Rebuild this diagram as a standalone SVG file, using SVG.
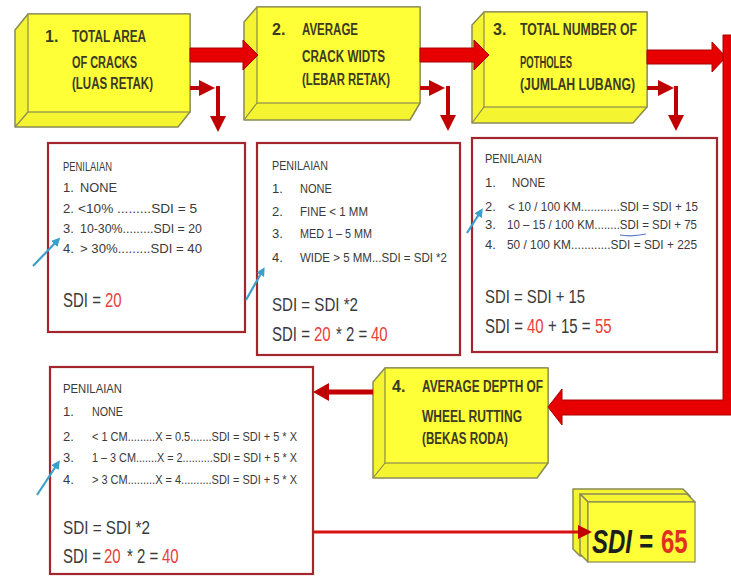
<svg xmlns="http://www.w3.org/2000/svg" width="731" height="576" viewBox="0 0 731 576">
<defs>
<style>
.bev{fill:#f4f430;stroke:#8a8a55;stroke-width:1.5;stroke-linejoin:round}
.face{fill:#ffff38;stroke:#8a8a55;stroke-width:1.2}
.edge{fill:none;stroke:#8a8a55;stroke-width:1.2}
.hd{font-family:"Liberation Sans Narrow","Liberation Sans",Arial,sans-serif;font-weight:bold;font-size:16px;fill:#3b3b22}
.pn{fill:#fff;stroke:#a3262e;stroke-width:2.2}
.t{font-family:"Liberation Sans Narrow","Liberation Sans",Arial,sans-serif;font-size:13px;fill:#3a3a3a}
.s{font-family:"Liberation Sans Narrow","Liberation Sans",Arial,sans-serif;font-size:19px;fill:#3a3a3a}
.s2{font-family:"Liberation Sans",Arial,sans-serif;font-size:15px;fill:#3a3a3a}
.r{fill:#e8403a}
.big{fill:#e60000;stroke:#a80000;stroke-width:1}
.thin{fill:none;stroke:#c00000;stroke-width:4}
.teal{fill:none;stroke:#3a9fcc;stroke-width:2.2}
.res{font-family:"Liberation Sans",Arial,sans-serif;font-weight:bold;font-size:24px}
</style>
<marker id="ah" markerWidth="4" markerHeight="4" refX="2" refY="2" orient="auto" markerUnits="strokeWidth"><path d="M0,0 L4,2 L0,4 Z" fill="#c00000"/></marker>
<marker id="at" markerWidth="4" markerHeight="4" refX="2.5" refY="2" orient="auto" markerUnits="strokeWidth"><path d="M0,0 L4,2 L0,4 Z" fill="#3a9fcc"/></marker>
</defs>
<rect width="731" height="576" fill="#fff"/>

<g id="box1">
<path class="bev" d="M28,14 H190 V112 L178,127 H15 V30 Z"/>
<rect class="face" x="28" y="14" width="162" height="98"/>
<path class="edge" d="M28,112 L15,127"/>
<text class="hd" x="45" y="42">1.</text>
<text class="hd" x="72" y="42" textLength="74" lengthAdjust="spacingAndGlyphs">TOTAL AREA</text>
<text class="hd" x="72" y="68" textLength="65" lengthAdjust="spacingAndGlyphs">OF CRACKS</text>
<text class="hd" x="72" y="89" textLength="81" lengthAdjust="spacingAndGlyphs">(LUAS RETAK)</text>
</g>

<g id="box2">
<path class="bev" d="M257,7 H420 V103 L410,120 H244 V22 Z"/>
<rect class="face" x="257" y="7" width="163" height="96"/>
<path class="edge" d="M257,103 L244,120"/>
<text class="hd" x="272" y="35">2.</text>
<text class="hd" x="302" y="35" textLength="56" lengthAdjust="spacingAndGlyphs">AVERAGE</text>
<text class="hd" x="302" y="62" textLength="83" lengthAdjust="spacingAndGlyphs">CRACK WIDTS</text>
<text class="hd" x="302" y="85" textLength="88" lengthAdjust="spacingAndGlyphs">(LEBAR RETAK)</text>
</g>

<g id="box3">
<path class="bev" d="M484,12 H647 V107 L633,123 H472 V25 Z"/>
<rect class="face" x="484" y="12" width="163" height="95"/>
<path class="edge" d="M484,107 L472,123"/>
<text class="hd" x="493" y="35">3.</text>
<text class="hd" x="520" y="35" textLength="117" lengthAdjust="spacingAndGlyphs">TOTAL NUMBER OF</text>
<text class="hd" x="520" y="68" textLength="52" lengthAdjust="spacingAndGlyphs">POTHOLES</text>
<text class="hd" x="520" y="90" textLength="115" lengthAdjust="spacingAndGlyphs">(JUMLAH LUBANG)</text>
</g>

<g id="box4">
<path class="bev" d="M385,368 H548 V463 L537,478 H373 V382 Z"/>
<rect class="face" x="385" y="368" width="163" height="95"/>
<path class="edge" d="M385,463 L373,478"/>
<text class="hd" x="392" y="392">4.</text>
<text class="hd" x="422" y="392" textLength="121" lengthAdjust="spacingAndGlyphs">AVERAGE DEPTH OF</text>
<text class="hd" x="422" y="422" textLength="100" lengthAdjust="spacingAndGlyphs">WHEEL RUTTING</text>
<text class="hd" x="422" y="444" textLength="86" lengthAdjust="spacingAndGlyphs">(BEKAS RODA)</text>
</g>

<g id="penilaian1">
<rect class="pn" x="48" y="143" width="197" height="189"/>
<text class="t" x="63" y="171" textLength="49" lengthAdjust="spacingAndGlyphs">PENILAIAN</text>
<text class="t" x="63" y="192">1.</text><text class="t" x="80" y="192" textLength="37" lengthAdjust="spacingAndGlyphs">NONE</text>
<text class="t" x="63" y="213">2.</text><text class="t" x="78" y="213" textLength="119" lengthAdjust="spacingAndGlyphs">&lt;10% .........SDI = 5</text>
<text class="t" x="63" y="233">3.</text><text class="t" x="80" y="233" textLength="122" lengthAdjust="spacingAndGlyphs">10-30%.........SDI = 20</text>
<text class="t" x="63" y="253">4.</text><text class="t" x="80" y="253" textLength="122" lengthAdjust="spacingAndGlyphs">&gt; 30%.........SDI = 40</text>
<text class="s2" transform="translate(63,307) scale(1,1.3)">SDI =</text>
<text class="s2 r" transform="translate(105,307) scale(1,1.3)">20</text>
</g>

<g id="penilaian2">
<rect class="pn" x="257" y="143" width="203" height="212"/>
<text class="t" x="272" y="170" textLength="56" lengthAdjust="spacingAndGlyphs">PENILAIAN</text>
<text class="t" x="272" y="193">1.</text><text class="t" x="300" y="193" textLength="32" lengthAdjust="spacingAndGlyphs">NONE</text>
<text class="t" x="272" y="216">2.</text><text class="t" x="300" y="216" textLength="68" lengthAdjust="spacingAndGlyphs">FINE &lt; 1 MM</text>
<text class="t" x="272" y="238">3.</text><text class="t" x="300" y="238" textLength="72" lengthAdjust="spacingAndGlyphs">MED 1 – 5 MM</text>
<text class="t" x="272" y="262">4.</text><text class="t" x="300" y="262" textLength="147" lengthAdjust="spacingAndGlyphs">WIDE &gt; 5 MM...SDI = SDI *2</text>
<text class="s" x="272" y="311" textLength="86" lengthAdjust="spacingAndGlyphs">SDI = SDI *2</text>
<text class="s2" transform="translate(272,341) scale(1,1.3)">SDI =</text>
<text class="s2 r" transform="translate(314,341) scale(1,1.3)">20</text>
<text class="s2" transform="translate(336,341) scale(1,1.3)">* 2 =</text>
<text class="s2 r" transform="translate(371,341) scale(1,1.3)">40</text>
</g>

<g id="penilaian3">
<rect class="pn" x="472" y="138" width="245" height="214"/>
<text class="t" x="485" y="163" textLength="57" lengthAdjust="spacingAndGlyphs">PENILAIAN</text>
<text class="t" x="485" y="187">1.</text><text class="t" x="512" y="187" textLength="33" lengthAdjust="spacingAndGlyphs">NONE</text>
<text class="t" x="485" y="211">2.</text><text class="t" x="508" y="211" textLength="190" lengthAdjust="spacingAndGlyphs">&lt; 10 / 100 KM............SDI = SDI + 15</text>
<text class="t" x="485" y="229">3.</text><text class="t" x="507" y="229" textLength="190" lengthAdjust="spacingAndGlyphs">10 – 15 / 100 KM........SDI = SDI + 75</text>
<text class="t" x="485" y="249">4.</text><text class="t" x="507" y="249" textLength="190" lengthAdjust="spacingAndGlyphs">50 / 100 KM............SDI = SDI + 225</text>
<path d="M620,235 Q632,237 646,234" fill="none" stroke="#5a78c8" stroke-width="1.2"/>
<text class="s" x="485" y="303" textLength="100" lengthAdjust="spacingAndGlyphs">SDI = SDI + 15</text>
<text class="s2" transform="translate(485,333) scale(1,1.3)">SDI =</text>
<text class="s2 r" transform="translate(527,333) scale(1,1.3)">40</text>
<text class="s2" transform="translate(548,333) scale(1,1.3)">+ 15 =</text>
<text class="s2 r" transform="translate(595,333) scale(1,1.3)">55</text>
</g>

<g id="penilaian4">
<rect class="pn" x="50" y="367" width="263" height="207"/>
<text class="t" x="63" y="393" textLength="59" lengthAdjust="spacingAndGlyphs">PENILAIAN</text>
<text class="t" x="63" y="416">1.</text><text class="t" x="92" y="416" textLength="31" lengthAdjust="spacingAndGlyphs">NONE</text>
<text class="t" x="63" y="441">2.</text><text class="t" x="92" y="441" textLength="205" lengthAdjust="spacingAndGlyphs">&lt; 1 CM.........X = 0.5.......SDI = SDI + 5 * X</text>
<text class="t" x="63" y="462">3.</text><text class="t" x="92" y="462" textLength="205" lengthAdjust="spacingAndGlyphs">1 – 3 CM.......X = 2..........SDI = SDI + 5 * X</text>
<text class="t" x="63" y="484">4.</text><text class="t" x="92" y="484" textLength="205" lengthAdjust="spacingAndGlyphs">&gt; 3 CM.........X = 4..........SDI = SDI + 5 * X</text>
<text class="s" x="63" y="534" textLength="87" lengthAdjust="spacingAndGlyphs">SDI = SDI *2</text>
<text class="s2" transform="translate(63,563) scale(1,1.3)">SDI =</text>
<text class="s2 r" transform="translate(104,563) scale(1,1.3)">20</text>
<text class="s2" transform="translate(127,563) scale(1,1.3)">* 2 =</text>
<text class="s2 r" transform="translate(162,563) scale(1,1.3)">40</text>
</g>

<g id="result">
<path class="bev" d="M573,489 H683 L690,496 V556 H580 L573,549 Z"/>
<path class="bev" d="M580,494 H687 L695,502 H588 Z"/>
<path class="bev" d="M580,494 L588,502 V562 L580,554 Z"/>
<rect class="face" x="588" y="502" width="107" height="60"/>
<text class="res" fill="#1e1e1e" font-style="italic" transform="translate(592,553) scale(1,1.4)">SDI =</text>
<text class="res" fill="#e0301e" transform="translate(661,553) scale(1,1.4)">65</text>
</g>

<g id="connectors">
<path class="big" d="M190,48 H243 V40 L258,55 L243,70 V62 H190 Z"/>
<path class="big" d="M420,48 H474 V40 L489,55 L474,70 V62 H420 Z"/>
<path class="big" d="M647,50 H712 V42 L726,57 L712,72 V64 H647 Z"/>
<path class="big" d="M723,35 H745 V415 H562 V425 L548,407 L562,389 V400 H723 Z"/>
<line class="thin" x1="190" y1="88" x2="207" y2="88" marker-end="url(#ah)"/>
<line class="thin" x1="218" y1="86" x2="218" y2="124" marker-end="url(#ah)"/>
<line class="thin" x1="420" y1="88" x2="437" y2="88" marker-end="url(#ah)"/>
<line class="thin" x1="448" y1="86" x2="448" y2="123" marker-end="url(#ah)"/>
<line class="thin" x1="647" y1="88" x2="666" y2="88" marker-end="url(#ah)"/>
<line class="thin" x1="676" y1="86" x2="676" y2="123" marker-end="url(#ah)"/>
<path d="M373,392 H326" fill="none" stroke="#c00000" stroke-width="5"/>
<path d="M313,392 L329,383 L329,401 Z" fill="#c00000"/>
<path d="M313,532 H580" fill="none" stroke="#d81010" stroke-width="3"/>
<path d="M592,532 L578,525 L578,539 Z" fill="#c00000"/>
<line class="teal" x1="33" y1="266" x2="58" y2="240" marker-end="url(#at)"/>
<line class="teal" x1="246" y1="300" x2="263" y2="270" marker-end="url(#at)"/>
<line class="teal" x1="467" y1="233" x2="481" y2="211" marker-end="url(#at)"/>
<line class="teal" x1="37" y1="495" x2="58" y2="463" marker-end="url(#at)"/>
</g>
</svg>
